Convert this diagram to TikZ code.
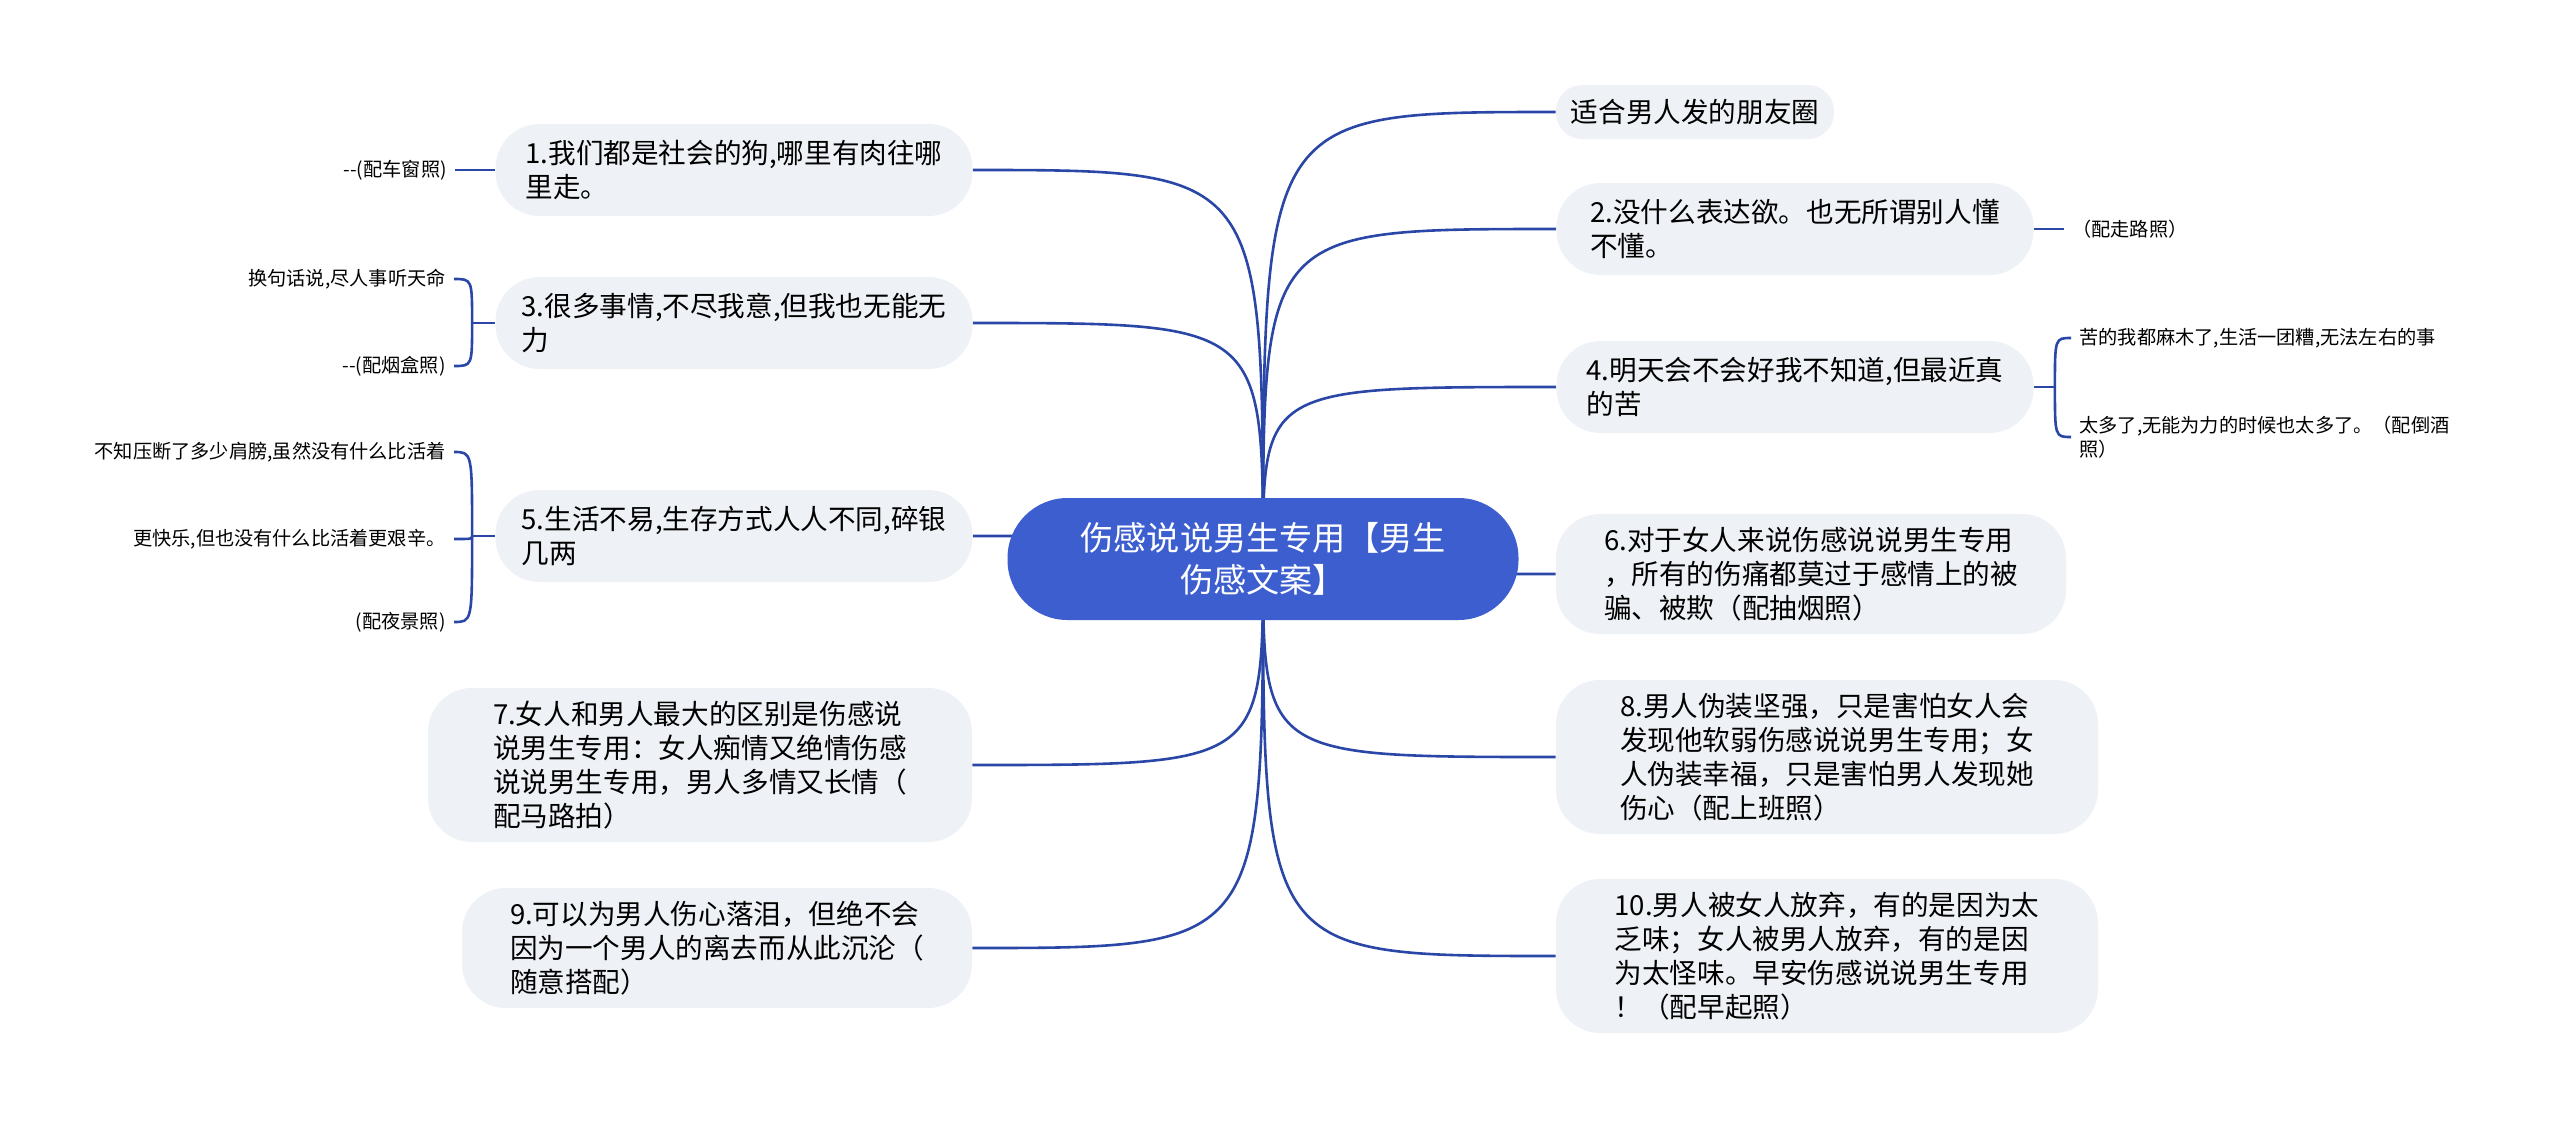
\documentclass[tikz,border=0pt]{standalone}
\usepackage{fontspec}
\setmainfont{Noto Sans CJK SC}[Ligatures=TeXOff]
\usetikzlibrary{positioning,backgrounds,calc}
\definecolor{rootblue}{RGB}{60,94,206}
\definecolor{linkblue}{RGB}{42,70,166}
\definecolor{topicgray}{RGB}{238,241,245}
\tikzset{
  root/.style  ={fill=rootblue,text=white,rounded corners=30pt,align=center,
                 font=\fontsize{16.6pt}{21pt}\selectfont,minimum width=255.5pt,minimum height=61pt},
  topic/.style ={fill=topicgray,rounded corners=22pt,align=left,inner ysep=6.5pt,
                 font=\fontsize{13.8pt}{17pt}\selectfont,minimum height=46pt},
  leaf/.style  ={inner sep=4pt,font=\fontsize{9.6pt}{12pt}\selectfont},
  link/.style  ={draw=linkblue,line width=1.3pt},
}

\begin{document}
\begin{tikzpicture}[x=0.5pt,y=-0.5pt]
  \useasboundingbox (0,0) rectangle (2560,1120);
  % centre
  \node[root] (root) at (1263,559) {伤感说说男生专用【男生\\伤感文案】};
  % right side
  \node[topic,minimum width=139pt,minimum height=27pt,rounded corners=13pt] (t0) at (1695,112) {适合男人发的朋友圈};
  \node[topic,minimum width=238.5pt] (t2) at (1795,229) {2.没什么表达欲。也无所谓别人懂\\不懂。};
  \node[topic,minimum width=238.5pt] (t4) at (1795,387) {4.明天会不会好我不知道,但最近真\\的苦};
  \node[topic,minimum width=255pt] (t6) at (1811,574) {6.对于女人来说伤感说说男生专用\\，所有的伤痛都莫过于感情上的被\\骗、被欺（配抽烟照）};
  \node[topic,minimum width=271pt] (t8) at (1827,757) {8.男人伪装坚强，只是害怕女人会\\发现他软弱伤感说说男生专用；女\\人伪装幸福，只是害怕男人发现她\\伤心（配上班照）};
  \node[topic,minimum width=271pt] (t10) at (1827,956) {10.男人被女人放弃，有的是因为太\\乏味；女人被男人放弃，有的是因\\为太怪味。早安伤感说说男生专用\\！（配早起照）};
  % left side
  \node[topic,minimum width=238.5pt] (t1) at (734,170) {1.我们都是社会的狗,哪里有肉往哪\\里走。};
  \node[topic,minimum width=238.5pt] (t3) at (734,323) {3.很多事情,不尽我意,但我也无能无\\力};
  \node[topic,minimum width=238.5pt] (t5) at (734,536) {5.生活不易,生存方式人人不同,碎银\\几两};
  \node[topic,minimum width=272pt] (t7) at (700,765) {7.女人和男人最大的区别是伤感说\\说男生专用：女人痴情又绝情伤感\\说说男生专用，男人多情又长情（\\配马路拍）};
  \node[topic,minimum width=255pt] (t9) at (717,948) {9.可以为男人伤心落泪，但绝不会\\因为一个男人的离去而从此沉沦（\\随意搭配）};
  % leaves
  \node[leaf,left=20pt of t1] (l1) {--(配车窗照)};
  \node[leaf,anchor=east] (l3a) at (454,279) {换句话说,尽人事听天命};
  \node[leaf,anchor=east] (l3b) at (454,366) {--(配烟盒照)};
  \node[leaf,anchor=east] (l5a) at (454,452) {不知压断了多少肩膀,虽然没有什么比活着};
  \node[leaf,anchor=east] (l5b) at (454,539) {更快乐,但也没有什么比活着更艰辛。};
  \node[leaf,anchor=east] (l5c) at (454,622) {(配夜景照)};
  \node[leaf,right=15pt of t2] (l2) {（配走路照）};
  \node[leaf,anchor=west] (l4a) at (2071,338) {苦的我都麻木了,生活一团糟,无法左右的事};
  \node[leaf,anchor=west,align=left] (l4b) at (2071,437) {太多了,无能为力的时候也太多了。（配倒酒\\照）};

  \begin{scope}[on background layer]
    \foreach \t in {t0,t2,t4,t6,t8,t10}
      \draw[link] (root.center) .. controls (root.center |- \t.west) .. (\t.west);
    \foreach \t in {t1,t3,t5,t7,t9}
      \draw[link] (root.center) .. controls (root.center |- \t.east) .. (\t.east);
    \draw[link] (t1.west) -- (l1.east);
    \draw[link] (t2.east) -- (l2.west);
    \draw[link] (t3.west) -- ++(-23,0) coordinate (b3);
    \foreach \l in {l3a,l3b}
      \draw[link] (b3) .. controls (b3 |- \l.east) .. (\l.east);
    \draw[link] (t5.west) -- ++(-23,0) coordinate (b5);
    \foreach \l in {l5a,l5b,l5c}
      \draw[link] (b5) .. controls (b5 |- \l.east) .. (\l.east);
    \draw[link] (t4.east) -- ++(21,0) coordinate (b4);
    \foreach \l in {l4a,l4b}
      \draw[link] (b4) .. controls (b4 |- \l.west) .. (\l.west);
  \end{scope}
\end{tikzpicture}
\end{document}
